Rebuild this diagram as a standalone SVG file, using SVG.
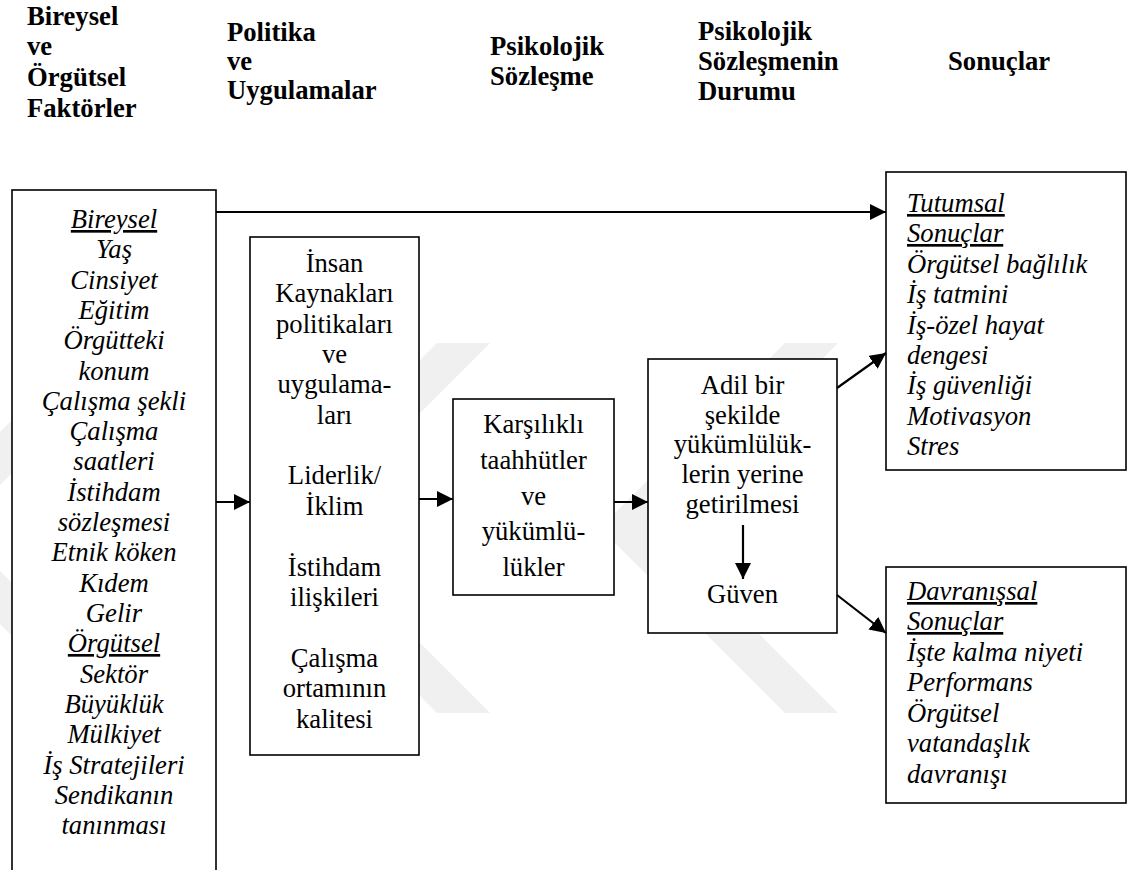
<svg xmlns="http://www.w3.org/2000/svg" width="1127" height="870" viewBox="0 0 1127 870">
  <style>
    .hd { font-family: "Liberation Serif", "Times New Roman", Times, serif; font-size: 26.67px; font-weight: bold; fill: #000; }
    .tx { font-family: "Liberation Serif", "Times New Roman", Times, serif; font-size: 26.67px; fill: #000; }
    .it { font-family: "Liberation Serif", "Times New Roman", Times, serif; font-size: 26.67px; font-style: italic; fill: #000; }
    .u { text-decoration: underline; }
    .box { fill: #fff; stroke: #000; stroke-width: 1.6; }
    .conn { stroke: #000; stroke-width: 2.2; fill: none; }
    .mark { fill: #f0f0f0; }
  </style>
  <defs>
    <marker id="arrow" markerUnits="userSpaceOnUse" markerWidth="17" markerHeight="17" refX="16" refY="8" orient="auto">
      <path d="M0,0 L16,8 L0,16 z" fill="#000"/>
    </marker>
  </defs>
  <rect width="1127" height="870" fill="#fff"/>

  <!-- pale background emblem: three left-pointing chevrons -->
  <g id="emblem" class="mark">
    <polygon points="89,343 142,343 -43,528 142,713 89,713 -96,528"/>
    <polygon points="437,343 490,343 305,528 490,713 437,713 252,528"/>
    <polygon points="785,343 838,343 653,528 838,713 785,713 600,528"/>
  </g>

  <!-- column headings -->
  <g id="headings">
    <text class="hd" x="27" y="25">Bireysel</text>
    <text class="hd" x="27" y="55">ve</text>
    <text class="hd" x="27" y="86">Örgütsel</text>
    <text class="hd" x="27" y="117">Faktörler</text>
    <text class="hd" x="227" y="41">Politika</text>
    <text class="hd" x="227" y="70">ve</text>
    <text class="hd" x="227" y="99">Uygulamalar</text>
    <text class="hd" x="490" y="55">Psikolojik</text>
    <text class="hd" x="490" y="85">Sözleşme</text>
    <text class="hd" x="698" y="40">Psikolojik</text>
    <text class="hd" x="698" y="70">Sözleşmenin</text>
    <text class="hd" x="698" y="100">Durumu</text>
    <text class="hd" x="948" y="70">Sonuçlar</text>
  </g>

  <!-- individual and organisational factors -->
  <g id="factors">
    <rect class="box" x="12" y="190" width="204" height="700"/>
    <g class="it" text-anchor="middle">
      <text class="u" x="114" y="228">Bireysel</text>
      <text x="114" y="258">Yaş</text>
      <text x="114" y="289">Cinsiyet</text>
      <text x="114" y="319">Eğitim</text>
      <text x="114" y="349">Örgütteki</text>
      <text x="114" y="380">konum</text>
      <text x="114" y="410">Çalışma şekli</text>
      <text x="114" y="440">Çalışma</text>
      <text x="114" y="470">saatleri</text>
      <text x="114" y="501">İstihdam</text>
      <text x="114" y="531">sözleşmesi</text>
      <text x="114" y="561">Etnik köken</text>
      <text x="114" y="592">Kıdem</text>
      <text x="114" y="622">Gelir</text>
      <text class="u" x="114" y="652">Örgütsel</text>
      <text x="114" y="683">Sektör</text>
      <text x="114" y="713">Büyüklük</text>
      <text x="114" y="743">Mülkiyet</text>
      <text x="114" y="774">İş Stratejileri</text>
      <text x="114" y="804">Sendikanın</text>
      <text x="114" y="834">tanınması</text>
    </g>
  </g>

  <!-- policies and practices -->
  <g id="policies">
    <rect class="box" x="250" y="237" width="169" height="518"/>
    <g class="tx" text-anchor="middle">
      <text x="334.5" y="272">İnsan</text>
      <text x="334.5" y="302">Kaynakları</text>
      <text x="334.5" y="333">politikaları</text>
      <text x="334.5" y="363">ve</text>
      <text x="334.5" y="393">uygulama-</text>
      <text x="334.5" y="424">ları</text>
      <text x="334.5" y="484">Liderlik/</text>
      <text x="334.5" y="515">İklim</text>
      <text x="334.5" y="576">İstihdam</text>
      <text x="334.5" y="606">ilişkileri</text>
      <text x="334.5" y="667">Çalışma</text>
      <text x="334.5" y="697">ortamının</text>
      <text x="334.5" y="728">kalitesi</text>
    </g>
  </g>

  <!-- psychological contract -->
  <g id="contract">
    <rect class="box" x="453" y="399" width="161" height="196"/>
    <g class="tx" text-anchor="middle">
      <text x="533.5" y="433">Karşılıklı</text>
      <text x="533.5" y="469">taahhütler</text>
      <text x="533.5" y="505">ve</text>
      <text x="533.5" y="540">yükümlü-</text>
      <text x="533.5" y="576">lükler</text>
    </g>
  </g>

  <!-- state of the psychological contract -->
  <g id="state">
    <rect class="box" x="648" y="359" width="189" height="274"/>
    <g class="tx" text-anchor="middle">
      <text x="742.5" y="394">Adil bir</text>
      <text x="742.5" y="424">şekilde</text>
      <text x="742.5" y="453">yükümlülük-</text>
      <text x="742.5" y="483">lerin yerine</text>
      <text x="742.5" y="513">getirilmesi</text>
      <text x="742.5" y="603">Güven</text>
    </g>
  </g>

  <!-- attitudinal outcomes -->
  <g id="attitudinal">
    <rect class="box" x="886" y="172" width="240" height="298"/>
    <g class="it">
      <text class="u" x="907" y="212">Tutumsal</text>
      <text class="u" x="907" y="242">Sonuçlar</text>
      <text x="907" y="273">Örgütsel bağlılık</text>
      <text x="907" y="303">İş tatmini</text>
      <text x="907" y="334">İş-özel hayat</text>
      <text x="907" y="364">dengesi</text>
      <text x="907" y="394">İş güvenliği</text>
      <text x="907" y="425">Motivasyon</text>
      <text x="907" y="455">Stres</text>
    </g>
  </g>

  <!-- behavioural outcomes -->
  <g id="behavioural">
    <rect class="box" x="886" y="567" width="240" height="236"/>
    <g class="it">
      <text class="u" x="907" y="600">Davranışsal</text>
      <text class="u" x="907" y="630">Sonuçlar</text>
      <text x="907" y="661">İşte kalma niyeti</text>
      <text x="907" y="691">Performans</text>
      <text x="907" y="722">Örgütsel</text>
      <text x="907" y="752">vatandaşlık</text>
      <text x="907" y="783">davranışı</text>
    </g>
  </g>

  <!-- connectors -->
  <g id="connectors" class="conn">
    <line x1="216" y1="212" x2="886" y2="212" marker-end="url(#arrow)"/>
    <line x1="216" y1="502" x2="250" y2="502" marker-end="url(#arrow)"/>
    <line x1="419" y1="499" x2="453" y2="499" marker-end="url(#arrow)"/>
    <line x1="614" y1="502" x2="648" y2="502" marker-end="url(#arrow)"/>
    <line x1="743" y1="525" x2="743" y2="579" marker-end="url(#arrow)"/>
    <line x1="837" y1="388" x2="886" y2="353" marker-end="url(#arrow)"/>
    <line x1="837" y1="595" x2="886" y2="633" marker-end="url(#arrow)"/>
  </g>
</svg>
